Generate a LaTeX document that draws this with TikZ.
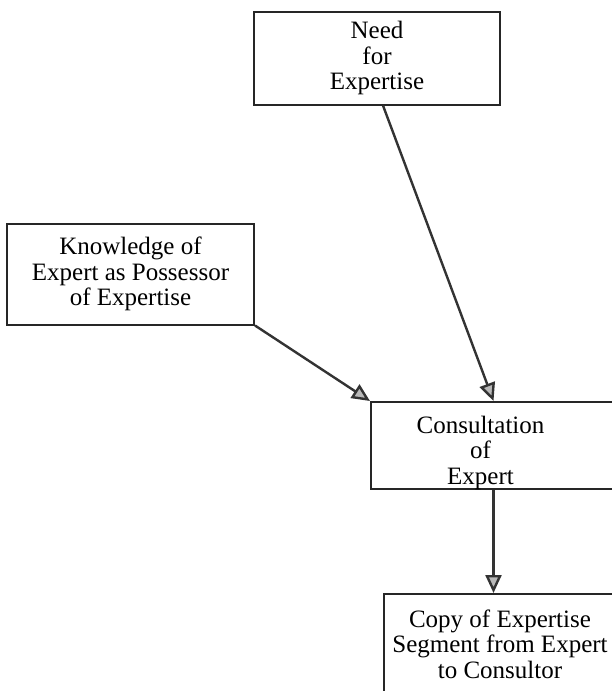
\documentclass[tikz,border=0pt]{standalone}
\usepackage{fontspec}
\setmainfont{Liberation Serif}
\usetikzlibrary{arrows.meta, positioning}

\begin{document}
\begin{tikzpicture}[
    x=1pt, y=-1pt,
    box/.style={rectangle, draw=black!85, line width=2pt, fill=white,
                font=\fontsize{25}{25.5}\selectfont, align=center, inner sep=0pt},
    link/.style={-{Triangle[length=18pt, width=16pt, fill=gray!55]},
                 line width=2.4pt, draw=black!80},
]

\useasboundingbox (0,0) rectangle (611,691);

% Need and knowledge boxes
\node[box, minimum width=246pt, minimum height=93pt] (need) at (377,58)
     {Need\\for\\Expertise};
\node[box, minimum width=247pt, minimum height=101pt] (know) at (130.5,274)
     {Knowledge of\\Expert as Possessor\\of Expertise};

% Consultation and copy boxes
\node[box, minimum width=245pt, minimum height=87pt, anchor=north west,
      label={[font=\fontsize{25}{25.5}\selectfont, align=center,
              xshift=-13pt, yshift=-7pt]center:Consultation\\of\\Expert}]
     (consult) at (370,401) {};
\node[box, minimum width=232pt, minimum height=100pt,
      below right=103pt and 13pt of consult.south west]
     (copy) {Copy of Expertise\\Segment from Expert\\to Consultor};

\draw[link] ([xshift=6pt]need.south) -- (consult.north);
\draw[link] (know.south east) -- (consult.north west);
\draw[link] (consult.south) -- (consult.south |- copy.north);

\end{tikzpicture}
\end{document}
